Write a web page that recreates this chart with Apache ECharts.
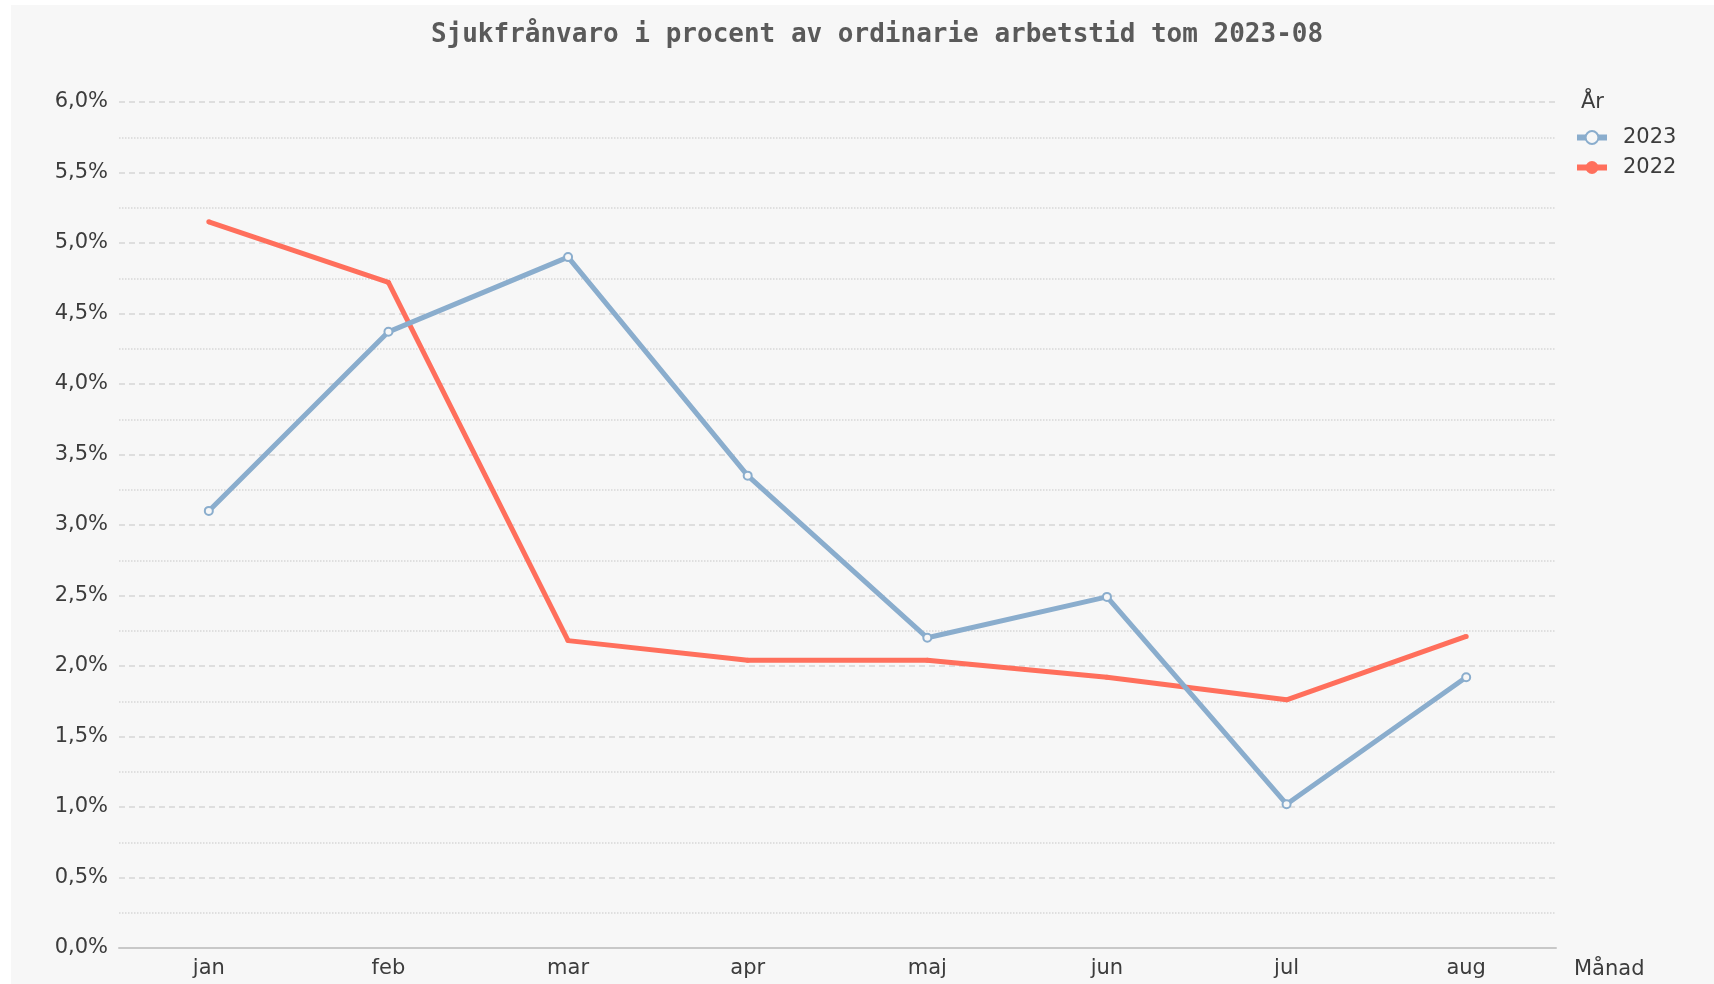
<!DOCTYPE html>
<html lang="sv">
<head>
    <meta charset="UTF-8">
    <title>Sjukfrånvaro</title>
    <script src="https://cdn.jsdelivr.net/npm/echarts@6/dist/echarts.min.js"></script>
    <style>
        body { margin: 0; background: #fff; }
        #chart { position: absolute; left: 11px; top: 5px; width: 1703px; height: 979px; background: #f7f7f7; }
    </style>
</head>
<body>
    <div id="chart"></div>
</body>
<script type="text/javascript">
    // månader
    var months = ['jan', 'feb', 'mar', 'apr', 'maj', 'jun', 'jul', 'aug'];
    // sjukfrånvaro i procent
    var values2023 = [3.10, 4.37, 4.90, 3.35, 2.20, 2.49, 1.02, 1.92];
    var values2022 = [5.15, 4.72, 2.18, 2.04, 2.04, 1.92, 1.76, 2.21];

    var chart = echarts.init(document.getElementById('chart'));
    var labelFont = { fontFamily: 'DejaVu Sans', fontSize: 21, color: '#3c3c3c' };

    var option = {
        animation: false,
        title: [
            {
                text: 'Sjukfrånvaro i procent av ordinarie arbetstid tom 2023-08',
                left: 861,
                top: 12,
                textAlign: 'center',
                textStyle: { fontFamily: 'DejaVu Sans Mono', fontSize: 26, fontWeight: 'bold', color: '#5a5a5a' }
            },
            {
                text: 'År',
                left: 1565,
                top: 82,
                textStyle: { fontFamily: 'DejaVu Sans', fontSize: 21, fontWeight: 'normal', color: '#3c3c3c' }
            }
        ],
        legend: {
            orient: 'vertical',
            left: 1558,
            top: 117,
            itemWidth: 30,
            itemHeight: 16,
            itemGap: 9,
            textStyle: Object.assign({ padding: [0, 0, 0, 11] }, labelFont),
            lineStyle: { width: 6 },
            data: ['2023', '2022']
        },
        grid: { left: 108, top: 97, width: 1437, height: 846 },
        xAxis: {
            type: 'category',
            data: months,
            boundaryGap: true,
            name: 'Månad',
            nameLocation: 'end',
            nameGap: 18,
            nameTextStyle: Object.assign({ verticalAlign: 'top', padding: [11, 0, 0, 0] }, labelFont),
            axisLine: { lineStyle: { color: '#c8c8c8', width: 2 } },
            axisTick: { show: false },
            axisLabel: Object.assign({ margin: 10 }, labelFont)
        },
        yAxis: {
            type: 'value',
            min: 0,
            max: 6,
            interval: 0.5,
            axisLine: { show: false },
            axisTick: { show: false },
            axisLabel: Object.assign({
                margin: 11,
                formatter: function (v) { return v.toFixed(1).replace('.', ',') + '%'; }
            }, labelFont),
            splitLine: { lineStyle: { color: '#d6d6d6', type: [6, 4], width: 1.5 } },
            minorTick: { show: false, splitNumber: 2 },
            minorSplitLine: { show: true, lineStyle: { color: '#d8d8d8', type: 'dotted', width: 1.5 } }
        },
        series: [
            {
                name: '2023',
                type: 'line',
                data: values2023,
                symbol: 'circle',
                symbolSize: 8,
                itemStyle: { color: '#f7f7f7', borderColor: '#8aadcd', borderWidth: 2 },
                lineStyle: { color: '#8aadcd', width: 5 },
                z: 3
            },
            {
                name: '2022',
                type: 'line',
                data: values2022,
                symbol: 'circle',
                symbolSize: 5,
                itemStyle: { color: '#ff6f5c' },
                lineStyle: { color: '#ff6f5c', width: 5 },
                z: 2
            }
        ]
    };

    chart.setOption(option);
</script>
</html>
